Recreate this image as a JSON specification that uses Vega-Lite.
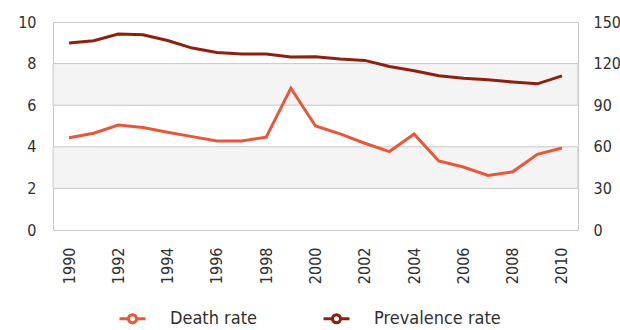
{
  "$schema": "https://vega.github.io/schema/vega-lite/v6.json",
  "width": 525,
  "height": 208,
  "autosize": "none",
  "padding": {"left": 53, "top": 22, "right": 42, "bottom": 100},
  "background": "white",
  "config": {
    "view": {"stroke": "#c8c8c8", "strokeWidth": 1},
    "font": "DejaVu Sans Condensed",
    "axis": {
      "labelFont": "DejaVu Sans Condensed",
      "labelFontSize": 16,
      "labelColor": "#303030",
      "ticks": false,
      "domain": false,
      "grid": false,
      "title": null
    },
    "legend": {"labelFont": "DejaVu Sans Condensed", "labelFontSize": 18, "labelColor": "#303030"}
  },
  "data": {
    "values": [
      {"year": 1990, "series": "Death rate", "value": 4.44},
      {"year": 1991, "series": "Death rate", "value": 4.65},
      {"year": 1992, "series": "Death rate", "value": 5.05},
      {"year": 1993, "series": "Death rate", "value": 4.93},
      {"year": 1994, "series": "Death rate", "value": 4.70},
      {"year": 1995, "series": "Death rate", "value": 4.49},
      {"year": 1996, "series": "Death rate", "value": 4.28},
      {"year": 1997, "series": "Death rate", "value": 4.28},
      {"year": 1998, "series": "Death rate", "value": 4.46},
      {"year": 1999, "series": "Death rate", "value": 6.82},
      {"year": 2000, "series": "Death rate", "value": 5.0},
      {"year": 2001, "series": "Death rate", "value": 4.62},
      {"year": 2002, "series": "Death rate", "value": 4.17},
      {"year": 2003, "series": "Death rate", "value": 3.77},
      {"year": 2004, "series": "Death rate", "value": 4.61},
      {"year": 2005, "series": "Death rate", "value": 3.32},
      {"year": 2006, "series": "Death rate", "value": 3.03},
      {"year": 2007, "series": "Death rate", "value": 2.62},
      {"year": 2008, "series": "Death rate", "value": 2.80},
      {"year": 2009, "series": "Death rate", "value": 3.64},
      {"year": 2010, "series": "Death rate", "value": 3.94},
      {"year": 1990, "series": "Prevalence rate", "value": 134.8},
      {"year": 1991, "series": "Prevalence rate", "value": 136.5},
      {"year": 1992, "series": "Prevalence rate", "value": 141.3},
      {"year": 1993, "series": "Prevalence rate", "value": 140.8},
      {"year": 1994, "series": "Prevalence rate", "value": 136.7},
      {"year": 1995, "series": "Prevalence rate", "value": 131.2},
      {"year": 1996, "series": "Prevalence rate", "value": 128.0},
      {"year": 1997, "series": "Prevalence rate", "value": 127.0},
      {"year": 1998, "series": "Prevalence rate", "value": 126.9},
      {"year": 1999, "series": "Prevalence rate", "value": 124.8},
      {"year": 2000, "series": "Prevalence rate", "value": 124.9},
      {"year": 2001, "series": "Prevalence rate", "value": 123.3},
      {"year": 2002, "series": "Prevalence rate", "value": 122.3},
      {"year": 2003, "series": "Prevalence rate", "value": 117.9},
      {"year": 2004, "series": "Prevalence rate", "value": 114.8},
      {"year": 2005, "series": "Prevalence rate", "value": 111.2},
      {"year": 2006, "series": "Prevalence rate", "value": 109.5},
      {"year": 2007, "series": "Prevalence rate", "value": 108.3},
      {"year": 2008, "series": "Prevalence rate", "value": 106.7},
      {"year": 2009, "series": "Prevalence rate", "value": 105.4},
      {"year": 2010, "series": "Prevalence rate", "value": 111.2}
    ]
  },
  "layer": [
    {
      "data": {"values": [{"lo": 2, "hi": 4}, {"lo": 6, "hi": 8}]},
      "mark": {"type": "rect", "fill": "#f4f4f4", "stroke": "#c8c8c8", "strokeWidth": 1},
      "encoding": {
        "y": {"field": "lo", "type": "quantitative", "scale": {"domain": [0, 10], "nice": false}, "axis": null},
        "y2": {"field": "hi"}
      }
    },
    {
      "transform": [{"filter": "datum.series === 'Death rate'"}],
      "mark": {"type": "line", "strokeWidth": 3, "interpolate": "linear"},
      "encoding": {
        "x": {
          "field": "year", "type": "quantitative",
          "scale": {"domain": [1989.35, 2010.65], "nice": false, "zero": false},
          "axis": {"values": [1990, 1992, 1994, 1996, 1998, 2000, 2002, 2004, 2006, 2008, 2010], "format": "d", "labelAngle": -90, "labelPadding": 17, "labelAlign": "right", "labelBaseline": "middle"}
        },
        "y": {
          "field": "value", "type": "quantitative",
          "scale": {"domain": [0, 10], "nice": false},
          "axis": {"orient": "left", "values": [0, 2, 4, 6, 8, 10], "labelPadding": 17}
        },
        "color": {
          "field": "series", "type": "nominal",
          "scale": {"domain": ["Death rate", "Prevalence rate"], "range": ["#e9573a", "#8e2010"]},
          "legend": {
            "title": null,
            "orient": "none",
            "direction": "horizontal",
            "legendX": 65,
            "legendY": 282,
            "symbolType": "M-1,0H-0.31M0.31,0H1M-0.31,0A0.31,0.31,0,1,0,0.31,0A0.31,0.31,0,1,0,-0.31,0",
            "symbolSize": 676,
            "symbolStrokeWidth": 3,
            "symbolFillColor": "white",
            "labelOffset": 23,
            "columnPadding": 59
          }
        }
      }
    },
    {
      "transform": [{"filter": "datum.series === 'Prevalence rate'"}],
      "mark": {"type": "line", "strokeWidth": 3, "interpolate": "linear"},
      "encoding": {
        "x": {"field": "year", "type": "quantitative"},
        "y": {
          "field": "value", "type": "quantitative",
          "scale": {"domain": [0, 150], "nice": false},
          "axis": {"orient": "right", "values": [0, 30, 60, 90, 120, 150], "labelPadding": 15}
        },
        "color": {"field": "series", "type": "nominal"}
      }
    }
  ],
  "resolve": {"scale": {"y": "independent"}}
}
